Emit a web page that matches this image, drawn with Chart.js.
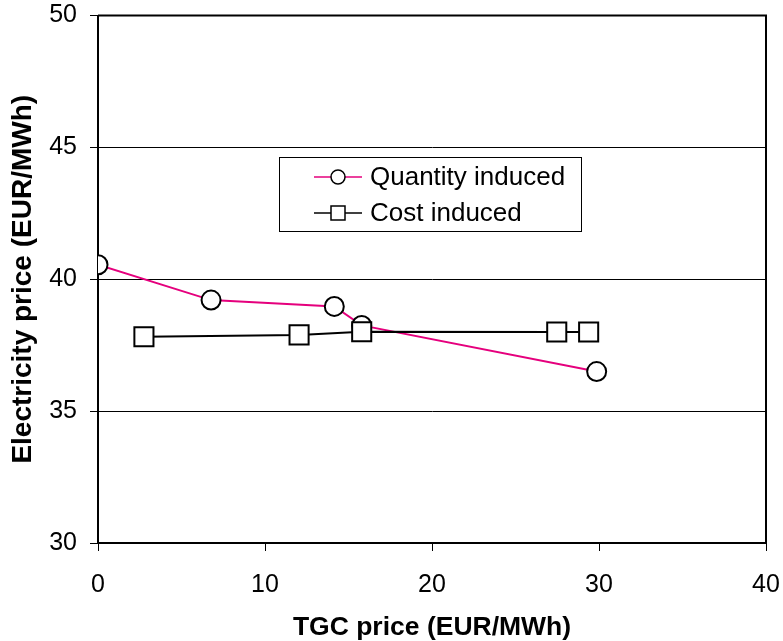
<!DOCTYPE html>
<html>
<head>
<meta charset="utf-8">
<title>Electricity price vs TGC price</title>
<script src="https://cdn.jsdelivr.net/npm/chart.js@4/dist/chart.umd.min.js"></script>
<style>
  html, body { margin: 0; padding: 0; background: #ffffff; }
  canvas { display: block; }
</style>
</head>
<body>
<canvas id="chart" width="783" height="641"></canvas>
<script>
// Series data
const seriesNames = ['Quantity induced', 'Cost induced'];
const quantityX = [0, 6.77, 14.15, 15.79, 29.86];
const quantityY = [40.55, 39.21, 38.97, 38.25, 36.50];
const costX = [2.75, 12.04, 15.79, 27.47, 29.38];
const costY = [37.82, 37.89, 38.01, 38.00, 38.00];

// Axis ticks and titles
const xTicks = [0, 10, 20, 30, 40];
const yTicks = [30, 35, 40, 45, 50];
const xTitle = 'TGC price (EUR/MWh)';
const yTitle = 'Electricity price (EUR/MWh)';

const FONT = "'Liberation Sans', Arial, Helvetica, sans-serif";
const PINK = '#E5007D';

const toPoints = (xs, ys) => xs.map((x, i) => ({ x: x, y: ys[i] }));

// Black frame around the plot area
const plotFrame = {
  id: 'plotFrame',
  afterDatasetsDraw(chart) {
    const { ctx, chartArea: a } = chart;
    ctx.save();
    ctx.strokeStyle = '#000';
    ctx.lineWidth = 2;
    ctx.beginPath();
    ctx.moveTo(a.left, a.top);
    ctx.lineTo(a.right, a.top);
    ctx.lineTo(a.right, a.bottom);
    ctx.stroke();
    ctx.restore();
  }
};

// Boxed legend placed inside the plot area
const boxedLegend = {
  id: 'boxedLegend',
  afterDraw(chart) {
    const { ctx } = chart;
    const box = { left: 279, top: 157, width: 302, height: 74 };
    ctx.save();
    ctx.fillStyle = '#fff';
    ctx.fillRect(box.left, box.top, box.width, box.height);
    ctx.strokeStyle = '#000';
    ctx.lineWidth = 1;
    ctx.strokeRect(box.left + 0.5, box.top + 0.5, box.width, box.height);
    chart.data.datasets.forEach((ds, i) => {
      const y = box.top + 20 + i * 36;
      const x0 = box.left + 35, x1 = box.left + 83, xm = box.left + 59;
      ctx.strokeStyle = ds.borderColor;
      ctx.lineWidth = 1.5;
      ctx.beginPath();
      ctx.moveTo(x0, y);
      ctx.lineTo(x1, y);
      ctx.stroke();
      ctx.fillStyle = '#fff';
      ctx.strokeStyle = '#000';
      ctx.lineWidth = 1.5;
      ctx.beginPath();
      if (ds.pointStyle === 'rect') {
        ctx.rect(xm - 7, y - 7, 14, 14);
      } else {
        ctx.arc(xm, y, 7, 0, Math.PI * 2);
      }
      ctx.fill();
      ctx.stroke();
      ctx.fillStyle = '#000';
      ctx.font = '26px ' + FONT;
      ctx.textAlign = 'left';
      ctx.textBaseline = 'middle';
      ctx.fillText(ds.label, box.left + 91, y + 1);
    });
    ctx.restore();
  }
};

new Chart(document.getElementById('chart'), {
  type: 'scatter',
  data: {
    datasets: [
      {
        label: seriesNames[0],
        data: toPoints(quantityX, quantityY),
        showLine: true,
        borderColor: PINK,
        borderWidth: 2,
        pointStyle: 'circle',
        pointRadius: 9.5,
        pointHoverRadius: 9.5,
        pointBackgroundColor: '#fff',
        pointBorderColor: '#000',
        pointBorderWidth: 2,
        order: 1
      },
      {
        label: seriesNames[1],
        data: toPoints(costX, costY),
        showLine: true,
        borderColor: '#000',
        borderWidth: 2,
        pointStyle: 'rect',
        pointRadius: 13.5,
        pointHoverRadius: 13.5,
        pointBackgroundColor: '#fff',
        pointBorderColor: '#000',
        pointBorderWidth: 2,
        order: 0
      }
    ]
  },
  options: {
    responsive: false,
    animation: false,
    devicePixelRatio: 1,
    layout: { padding: { top: 13, right: 17, left: 0, bottom: 0 } },
    plugins: {
      legend: { display: false },
      tooltip: { enabled: false }
    },
    scales: {
      x: {
        type: 'linear',
        min: 0,
        max: 40,
        afterBuildTicks: s => { s.ticks = xTicks.map(v => ({ value: v })); },
        afterFit: s => { s.height = 98; s.paddingLeft = 0; s.paddingRight = 0; },
        grid: {
          drawOnChartArea: false,
          drawTicks: true,
          tickLength: 8,
          color: '#000',
          lineWidth: 1
        },
        border: { display: true, color: '#000', width: 2 },
        ticks: {
          color: '#000',
          padding: 22,
          maxRotation: 0,
          font: { family: FONT, size: 25, lineHeight: 1 }
        },
        title: {
          display: true,
          text: xTitle,
          color: '#000',
          padding: { top: 0, bottom: 0 },
          font: { family: FONT, size: 26.5, weight: 'bold', lineHeight: 1 }
        }
      },
      y: {
        type: 'linear',
        min: 30,
        max: 50,
        afterBuildTicks: s => { s.ticks = yTicks.map(v => ({ value: v })); },
        afterFit: s => { s.width = 98; s.paddingTop = 0; s.paddingBottom = 0; },
        grid: {
          drawOnChartArea: true,
          drawTicks: true,
          tickLength: 8,
          color: '#000',
          lineWidth: 1
        },
        border: { display: true, color: '#000', width: 2 },
        ticks: {
          color: '#000',
          padding: 13,
          font: { family: FONT, size: 25, lineHeight: 1 }
        },
        title: {
          display: true,
          text: yTitle,
          color: '#000',
          padding: { top: 9, bottom: 0 },
          font: { family: FONT, size: 28, weight: 'bold', lineHeight: 1 }
        }
      }
    }
  },
  plugins: [plotFrame, boxedLegend]
});
</script>
</body>
</html>
